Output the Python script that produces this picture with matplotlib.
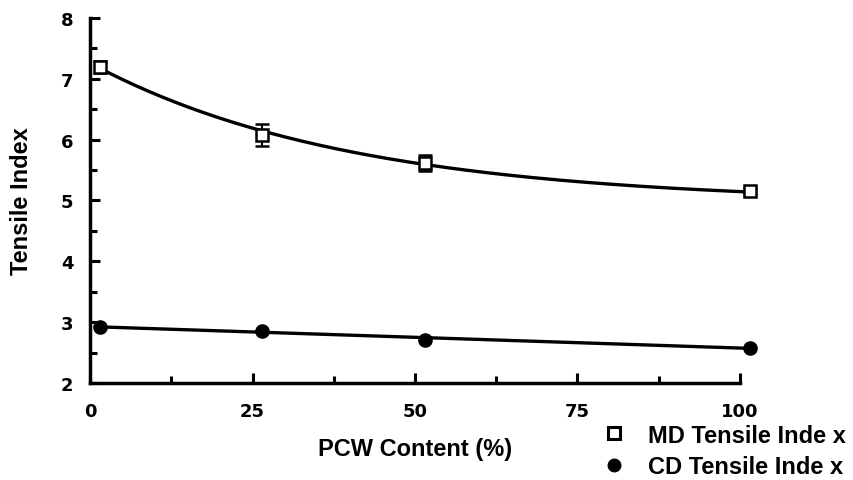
import numpy as np
import matplotlib
matplotlib.use("Agg")
import matplotlib.pyplot as plt
from matplotlib.ticker import MultipleLocator
from matplotlib.lines import Line2D

# values
pcw = [1.5, 26.5, 51.5, 101.5]
md_tensile = [7.2, 6.08, 5.62, 5.15]
md_err = [0.1, 0.18, 0.13, 0.05]
cd_tensile = [2.92, 2.86, 2.71, 2.58]

plt.rcParams["font.family"] = ["Liberation Sans", "DejaVu Sans"]
plt.rcParams["font.weight"] = "bold"

fig = plt.figure(figsize=(8.54, 4.81), dpi=100)
ax = fig.add_axes([0.1054, 0.2017, 0.7611, 0.7588])

# smooth fit curves through the points (exponential decay for MD, linear for CD)
xs = np.linspace(pcw[0], pcw[-1], 200)
decay = 40.0
md_fit = np.polyfit(np.exp(-np.array(pcw) / decay), md_tensile, 1)
ax.plot(xs, np.polyval(md_fit, np.exp(-xs / decay)), color="black", lw=2.4, clip_on=False)
cd_fit = np.polyfit(pcw, cd_tensile, 1)
ax.plot(xs, np.polyval(cd_fit, xs), color="black", lw=2.4, clip_on=False)

ax.errorbar(pcw, md_tensile, yerr=md_err, fmt="s", ms=9, mfc="white", mec="black",
            mew=1.8, ecolor="black", elinewidth=1.5, capsize=5, capthick=1.5, clip_on=False)
ax.plot(pcw, cd_tensile, "o", ms=9.5, color="black", clip_on=False)

ax.set_xlim(0, 100)
ax.set_ylim(2, 8)
ax.xaxis.set_major_locator(MultipleLocator(25))
ax.xaxis.set_minor_locator(MultipleLocator(12.5))
ax.yaxis.set_major_locator(MultipleLocator(1))
ax.yaxis.set_minor_locator(MultipleLocator(0.5))
ax.tick_params(which="both", direction="in", width=2.2)
ax.tick_params(which="major", length=7)
ax.tick_params(which="minor", length=5)
ax.tick_params(axis="x", pad=14)
ax.tick_params(axis="y", pad=12)
for lab in ax.get_xticklabels() + ax.get_yticklabels():
    lab.set_fontfamily("DejaVu Sans")
    lab.set_fontsize(13)
    lab.set_fontweight("bold")
for s in ["top", "right"]:
    ax.spines[s].set_visible(False)
for s in ["left", "bottom"]:
    ax.spines[s].set_linewidth(2.5)

ax.set_xlabel("PCW Content (%)", fontsize=17, fontweight="bold", labelpad=12)
ax.set_ylabel("Tensile Index", fontsize=17, fontweight="bold", labelpad=20)

handles = [
    Line2D([], [], marker="s", ls="none", ms=8, mfc="white", mec="black", mew=2.2),
    Line2D([], [], marker="o", ls="none", ms=9, color="black"),
]
fig.legend(handles, ["MD Tensile Inde x", "CD Tensile Inde x"], loc="upper left",
           bbox_to_anchor=(0.691, 0.142), frameon=False, fontsize=17,
           handletextpad=0.95, labelspacing=0.35, borderpad=0, handlelength=1.0)

fig.savefig("out.png", dpi=100)
